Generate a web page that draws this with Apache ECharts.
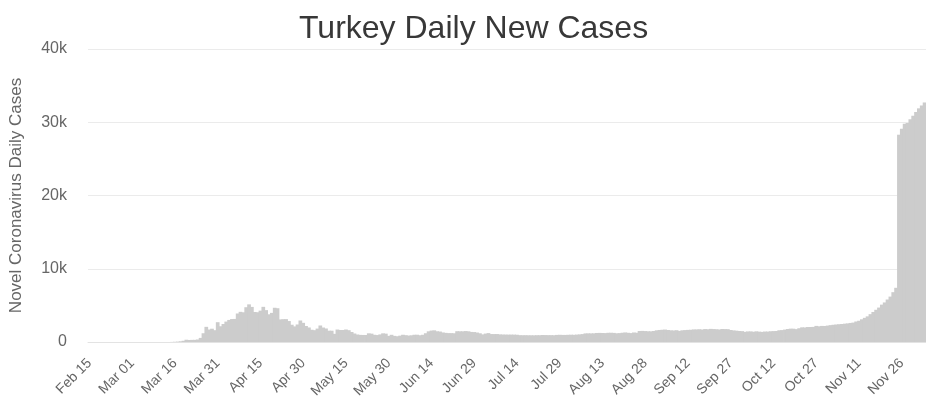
<!DOCTYPE html>
<html>
<head>
<meta charset="utf-8">
<script src="https://cdn.jsdelivr.net/npm/echarts@6/dist/echarts.min.js"></script>
<style>
html,body{margin:0;padding:0;background:#fff;}
#chart{width:926px;height:403px;}
</style>
</head>
<body>
<div id="chart"></div>
<script>
// Daily new cases, Feb 15 – Dec 4
var monthNames = ['Feb','Mar','Apr','May','Jun','Jul','Aug','Sep','Oct','Nov','Dec'];
var monthStartDay = [15,1,1,1,1,1,1,1,1,1,1];
var feb = [0,0,0,0,0,0,0,0,0,0,0,0,0,0,0];
var mar = [0,0,0,0,0,0,0,0,0,0,1,0,4,1,12,29,51,93,168,311,277,289,293,343,561,1196,2069,1704,1815,1610,2704];
var apr = [2148,2456,2786,3013,3135,3148,3892,4117,4056,4747,5138,4789,4093,4062,4281,4801,4353,3783,3977,4674,4611,3083,3116,3122,2861,2357,2131,2392,2936,2615];
var may = [2188,1983,1670,1614,1832,2253,1977,1848,1546,1542,1114,1704,1641,1635,1708,1610,1368,1158,1022,972,961,952,1186,1141,987,948,1035,1182,1141,839,983];
var jun = [839,786,867,988,930,878,914,989,993,922,987,1195,1459,1562,1592,1467,1429,1304,1248,1214,1212,1192,1475,1463,1458,1492,1458,1374,1356,1293];
var jul = [1192,1041,1148,1214,1086,1083,1086,1041,1024,1016,1008,1012,1008,992,933,926,928,919,918,913,929,926,956,947,937,935,925,968,982,967,964];
var aug = [983,997,983,1011,1040,1077,1172,1183,1178,1185,1233,1243,1226,1214,1256,1263,1244,1192,1214,1263,1303,1256,1218,1298,1263,1502,1517,1494,1466,1458,1502];
var sep = [1596,1643,1671,1698,1637,1596,1575,1610,1512,1597,1627,1655,1670,1716,1716,1742,1704,1767,1742,1792,1767,1742,1708,1772,1763,1753,1637,1582,1546,1502];
var oct = [1481,1391,1443,1448,1400,1456,1410,1379,1430,1425,1467,1488,1502,1602,1627,1696,1771,1822,1815,1754,1878,2001,1983,2044,2045,2062,2198,2145,2195,2187,2240];
var nov = [2300,2350,2390,2430,2460,2500,2540,2600,2650,2800,2900,3100,3300,3500,3800,4100,4400,4700,5100,5400,5800,6200,6800,7400,28300,29100,29800,29900,30400,30900];
var dec = [31400,31900,32300,32700];
var monthValues = [feb,mar,apr,may,jun,jul,aug,sep,oct,nov,dec];
var yTicks = [0,10000,20000,30000,40000];

var categories = [], values = [];
monthValues.forEach(function(arr, m){
  arr.forEach(function(v, i){
    var d = monthStartDay[m] + i;
    categories.push(monthNames[m] + ' ' + (d < 10 ? '0' + d : d));
    values.push(v);
  });
});

var chart = echarts.init(document.getElementById('chart'));
chart.setOption({
  animation: false,
  backgroundColor: '#ffffff',
  title: {
    text: 'Turkey Daily New Cases',
    left: 294,
    top: 8,
    textStyle: {fontFamily: 'Liberation Sans', fontSize: 32, fontWeight: 'normal', color: '#383838'}
  },
  grid: {left: 87, right: 0, top: 49, bottom: 61},
  xAxis: {
    type: 'category',
    data: categories,
    boundaryGap: true,
    axisLine: {show: true, lineStyle: {color: '#e3e3e3', width: 1}},
    axisTick: {show: false},
    axisLabel: {
      interval: 14,
      rotate: 45,
      margin: 19,
      color: '#666666',
      fontFamily: 'Liberation Sans',
      fontSize: 14
    }
  },
  yAxis: {
    type: 'value',
    min: yTicks[0],
    max: yTicks[yTicks.length - 1],
    interval: 10000,
    name: 'Novel Coronavirus Daily Cases',
    nameLocation: 'middle',
    nameRotate: 90,
    nameGap: 63,
    nameTextStyle: {color: '#666666', fontFamily: 'Liberation Sans', fontSize: 17},
    axisLine: {show: false},
    axisTick: {show: false},
    axisLabel: {
      margin: 21,
      color: '#666666',
      fontFamily: 'Liberation Sans',
      fontSize: 16,
      formatter: function(v){ return v === 0 ? '0' : (v / 1000) + 'k'; }
    },
    splitLine: {lineStyle: {color: '#ebebeb', width: 1}}
  },
  series: [{
    type: 'bar',
    data: values,
    barWidth: '130%',
    itemStyle: {color: '#cccccc'}
  }]
});
</script>
</body>
</html>
